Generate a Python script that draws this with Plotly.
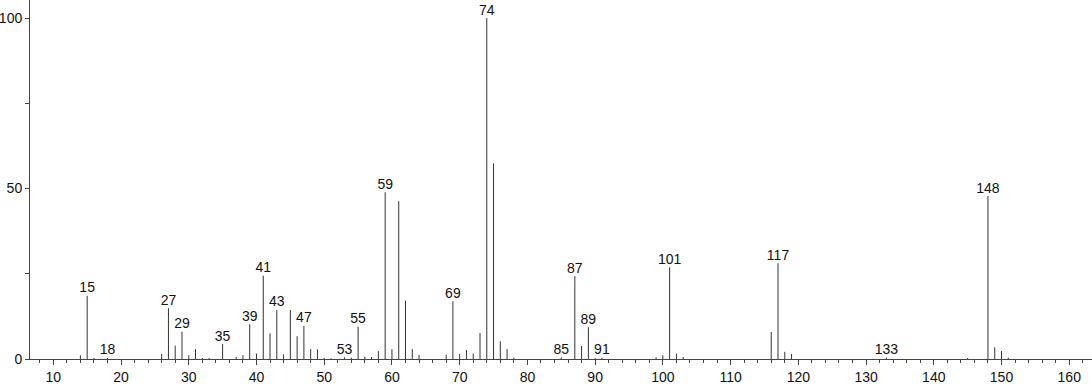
import plotly.graph_objects as go

mz = [14, 15, 16, 18, 26, 27, 28, 29, 30, 31, 32, 33, 35, 37, 38, 39, 40, 41, 42, 43,
      44, 45, 46, 47, 48, 49, 50, 51, 53, 54, 55, 56, 57, 58, 59, 60, 61, 62, 63, 64,
      68, 69, 70, 71, 72, 73, 74, 75, 76, 77, 78, 85, 87, 88, 89, 90, 91, 99, 100, 101,
      102, 103, 116, 117, 118, 119, 133, 145, 148, 149, 150, 151]
intensity = [1.1, 18.5, 0.3, 0.3, 1.5, 14.9, 3.9, 8.0, 1.1, 2.9, 0.3, 0.3, 4.4, 0.6, 1.1, 10.2, 1.6, 24.4, 7.5, 14.4,
             1.4, 14.4, 6.7, 9.7, 2.9, 2.8, 0.3, 0.2, 0.5, 0.4, 9.5, 0.7, 0.6, 2.3, 48.9, 2.9, 46.3, 17.1, 2.9, 1.2,
             1.3, 16.9, 1.5, 2.6, 1.6, 7.6, 100.0, 57.4, 5.2, 2.9, 0.4, 0.5, 24.3, 3.8, 9.3, 0.3, 0.4, 0.5, 1.1, 26.9,
             1.6, 0.6, 7.9, 28.1, 2.1, 1.5, 0.4, 0.3, 47.8, 3.4, 2.3, 0.4]
labeled = [15, 18, 27, 29, 35, 39, 41, 43, 47, 53, 55, 59, 69, 74, 85, 87, 89, 91, 101, 117, 133, 148]

xs, ys = [], []
for m, h in zip(mz, intensity):
    xs += [m, m, None]
    ys += [0, h, None]

lab_y = [intensity[mz.index(m)] for m in labeled]

fig = go.Figure()
fig.add_trace(go.Scatter(x=xs, y=ys, mode="lines",
                         line=dict(color="#333333", width=1),
                         hoverinfo="skip", showlegend=False))
fig.add_trace(go.Scatter(x=labeled, y=lab_y, mode="text",
                         text=[str(m) for m in labeled],
                         textposition="top center",
                         textfont=dict(family="Liberation Sans", size=14, color="#111111"),
                         showlegend=False, cliponaxis=False))

fig.update_layout(
    width=1092, height=384,
    margin=dict(l=30, r=0, t=0, b=25),
    paper_bgcolor="white", plot_bgcolor="white",
    font=dict(family="Liberation Sans", size=14, color="#111111"),
    xaxis=dict(range=[6.56, 163.36], tickvals=list(range(10, 161, 10)),
               ticks="outside", ticklen=5, tickcolor="#444444",
               showline=True, linecolor="#444444", linewidth=1,
               showgrid=False, zeroline=False, automargin=False,
               minor=dict(dtick=2, tick0=0, ticks="outside", ticklen=3, tickcolor="#444444", showgrid=False)),
    yaxis=dict(range=[0, 105.3], tickvals=[0, 25, 50, 75, 100],
               ticktext=["0", "", "50", "", "100"],
               ticks="outside", ticklen=4, tickcolor="#444444",
               showline=True, linecolor="#444444", linewidth=1,
               showgrid=False, zeroline=False, automargin=False),
)

fig.write_html("out.html", config={"displayModeBar": False},
               post_script="document.body.style.margin='0';")
